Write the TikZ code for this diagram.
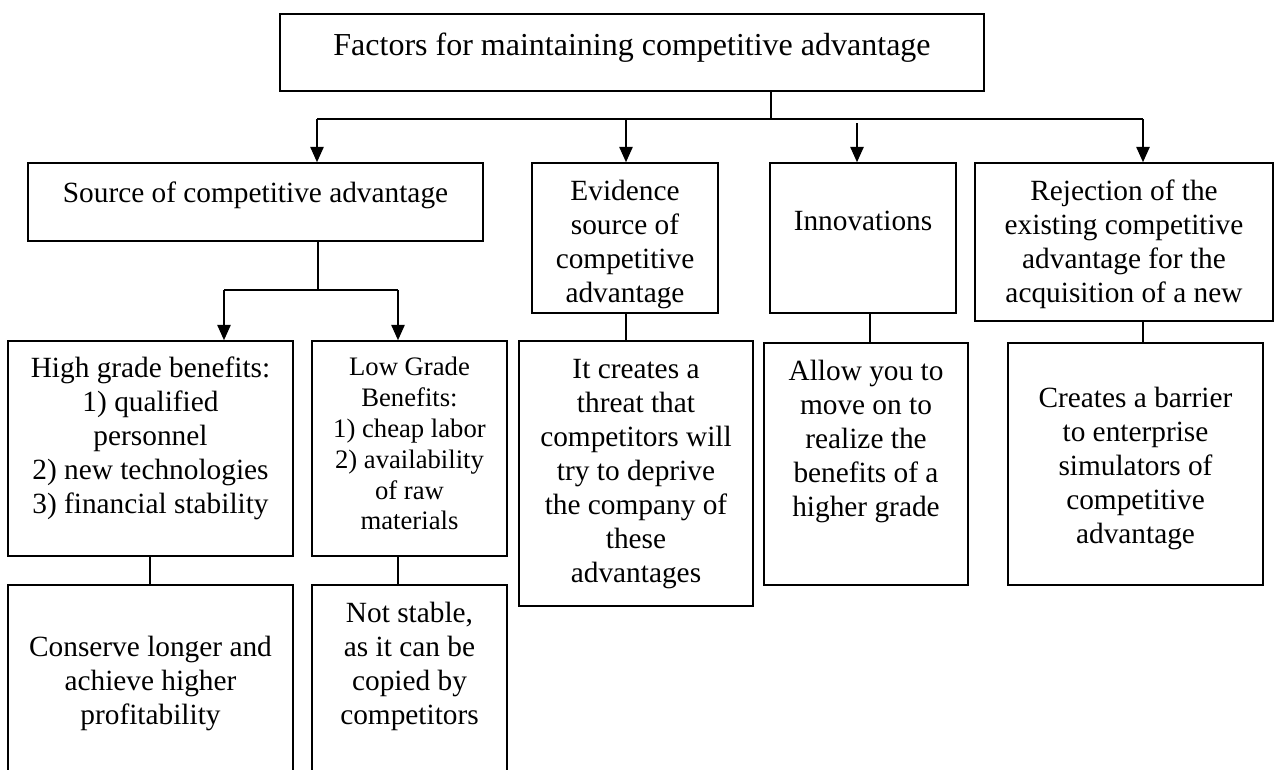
\documentclass[tikz,border=0pt]{standalone}
\usepackage{fontspec}
\setmainfont{Liberation Serif}
\usetikzlibrary{arrows.meta,fit}
\newcommand\fst{\rule[-6pt]{0pt}{24pt}}
\begin{document}
\begin{tikzpicture}[x=0.75pt,y=-0.75pt,
  box/.style={draw, line width=1.2pt, inner sep=0pt},
  txt/.style={anchor=north, inner sep=0pt, align=center, font=\fontsize{22}{25.5}\selectfont},
  ttl/.style={txt, font=\fontsize{24}{27.6}\selectfont},
  sml/.style={txt, font=\fontsize{20}{23.2}\selectfont},
  link/.style={line width=1.2pt},
  arr/.style={link, -{Triangle[length=11.5pt,width=10pt]}}
]
\useasboundingbox (0,0) rectangle (1278,769);
\clip (0,0) rectangle (1278,769);

% texts
\node[ttl] (topT) at (632,31) {\fst Factors for maintaining competitive advantage};
\node[txt] (srcT) at (255.5,178) {\fst Source of competitive advantage};
\node[txt] (evidT) at (625,176) {\fst Evidence\\source of\\competitive\\advantage};
\node[txt] (innovT) at (863,206) {\fst Innovations};
\node[txt] (rejT) at (1124,176) {\fst Rejection of the\\existing competitive\\advantage for the\\acquisition of a new};
\node[txt] (highT) at (150.5,353) {\fst High grade benefits:\\1) qualified\\personnel\\2) new technologies\\3) financial stability};
\node[sml] (lowT) at (409.5,351) {\fst Low Grade\\Benefits:\\1) cheap labor\\2) availability\\of raw\\materials};
\node[txt] (consT) at (150.5,632) {\fst Conserve longer and\\achieve higher\\profitability};
\node[txt] (nstT) at (409.5,598) {\fst Not stable,\\as it can be\\copied by\\competitors};
\node[txt] (thrT) at (636,354) {\fst It creates a\\threat that\\competitors will\\try to deprive\\the company of\\these\\advantages};
\node[txt] (allowT) at (866,356) {\fst Allow you to\\move on to\\realize the\\benefits of a\\higher grade};
\node[txt] (barT) at (1135.5,383) {\fst Creates a barrier\\to enterprise\\simulators of\\competitive\\advantage};

% boxes
\node[box, fit={(280,14) (984,91)}] (top) {};
\node[box, fit={(28,163) (483,241)}] (src) {};
\node[box, fit={(532,163) (718,313)}] (evid) {};
\node[box, fit={(770,163) (956,313)}] (innov) {};
\node[box, fit={(975,163) (1273,321)}] (rej) {};
\node[box, fit={(8,341) (293,556)}] (high) {};
\node[box, fit={(312,341) (507,556)}] (low) {};
\node[box, fit={(8,585) (293,800)}] (cons) {};
\node[box, fit={(312,585) (507,800)}] (nst) {};
\node[box, fit={(519,341) (753,606)}] (thr) {};
\node[box, fit={(764,343) (968,585)}] (allow) {};
\node[box, fit={(1008,343) (1263,585)}] (bar) {};

% junction coordinates
\coordinate (tj) at (771,119);
\coordinate (aS) at (317,119);
\coordinate (aE) at (626,119);
\coordinate (aI) at (857,123);
\coordinate (aR) at (1143,119);
\coordinate (sj) at (318,290);
\coordinate (sL) at (224,290);
\coordinate (sR) at (398,290);
\coordinate (hX) at (150,570);
\coordinate (iX) at (870,330);

% connectors
\draw[link] (top.south -| tj) -- (tj);
\draw[link] (aS) -- (aR);
\draw[arr] (aS) -- (src.north -| aS);
\draw[arr] (aE) -- (evid.north -| aE);
\draw[arr] (aI) -- (innov.north -| aI);
\draw[arr] (aR) -- (rej.north -| aR);

\draw[link] (src.south -| sj) -- (sj);
\draw[link] (sL) -- (sR);
\draw[arr] (sL) -- (high.north -| sL);
\draw[arr] (sR) -- (low.north -| sR);

\draw[link] (high.south -| hX) -- (cons.north -| hX);
\draw[link] (low.south -| sR) -- (nst.north -| sR);
\draw[link] (evid.south -| aE) -- (thr.north -| aE);
\draw[link] (innov.south -| iX) -- (allow.north -| iX);
\draw[link] (rej.south -| aR) -- (bar.north -| aR);
\end{tikzpicture}
\end{document}
